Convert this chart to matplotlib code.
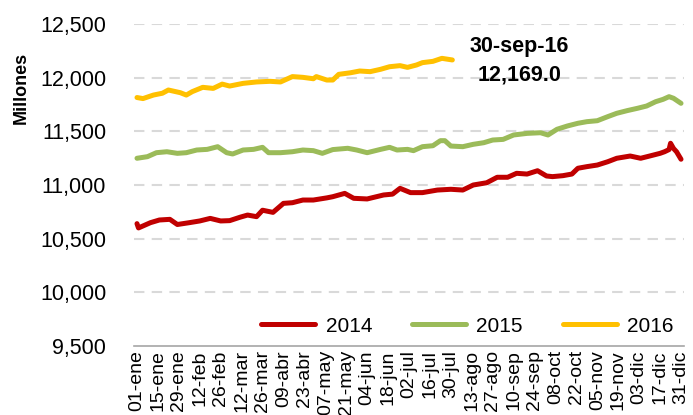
import matplotlib
matplotlib.use("Agg")
import matplotlib.pyplot as plt
from matplotlib import font_manager

# ---------------- data ----------------
tick_labels = ["01-ene", "15-ene", "29-ene", "12-feb", "26-feb", "12-mar", "26-mar",
               "09-abr", "23-abr", "07-may", "21-may", "04-jun", "18-jun", "02-jul",
               "16-jul", "30-jul", "13-ago", "27-ago", "10-sep", "24-sep", "08-oct",
               "22-oct", "05-nov", "19-nov", "03-dic", "17-dic", "31-dic"]
tick_days = [14 * i for i in range(len(tick_labels))]

days_2014 = [0, 1, 9, 15, 22, 27, 35, 42, 49, 56, 62, 69, 74, 80, 84, 91, 98, 104, 111,
             118, 127, 131, 139, 145, 154, 165, 171, 176, 183, 191, 201, 210, 218, 225,
             234, 241, 248, 254, 261, 268, 274, 278, 285, 291, 295, 301, 308, 315, 321,
             330, 337, 343, 350, 353, 356, 357, 359, 361, 364]
vals_2014 = [10640, 10600, 10649, 10674, 10680, 10632, 10649, 10665, 10689, 10665, 10668,
             10700, 10720, 10705, 10765, 10745, 10829, 10835, 10860, 10860, 10880, 10891,
             10922, 10876, 10870, 10907, 10915, 10969, 10929, 10929, 10953, 10960, 10953,
             11000, 11021, 11072, 11072, 11109, 11102, 11133, 11084, 11078, 11087, 11102,
             11156, 11171, 11186, 11217, 11249, 11270, 11249, 11270, 11295, 11310, 11330,
             11389, 11340, 11310, 11240]

days_2015 = [0, 7, 13, 20, 27, 33, 40, 47, 54, 60, 64, 71, 78, 84, 88, 96, 104, 111, 118,
             124, 131, 141, 147, 154, 163, 169, 174, 181, 185, 191, 198, 203, 206, 210,
             218, 225, 232, 238, 245, 252, 261, 270, 275, 281, 288, 295, 301, 308, 315,
             321, 328, 335, 341, 347, 352, 356, 359, 364]
vals_2015 = [11249, 11264, 11301, 11310, 11295, 11301, 11326, 11332, 11357, 11301, 11289,
             11326, 11332, 11351, 11301, 11301, 11310, 11326, 11320, 11295, 11330, 11342,
             11326, 11301, 11332, 11351, 11326, 11332, 11320, 11357, 11366, 11413, 11413,
             11363, 11357, 11379, 11394, 11419, 11425, 11466, 11481, 11487, 11466, 11519,
             11550, 11575, 11590, 11599, 11637, 11668, 11693, 11715, 11736, 11776, 11798,
             11823, 11808, 11761]

days_2016 = [0, 4, 11, 17, 21, 29, 33, 37, 44, 51, 57, 62, 71, 80, 89, 96, 104, 111, 118,
             120, 127, 131, 135, 143, 149, 156, 163, 169, 176, 181, 187, 191, 198, 204, 211]
vals_2016 = [11815, 11805, 11838, 11855, 11885, 11860, 11838, 11870, 11910, 11900, 11940,
             11922, 11947, 11960, 11966, 11960, 12010, 12003, 11990, 12010, 11978, 11978,
             12031, 12046, 12062, 12056, 12078, 12102, 12112, 12096, 12118, 12140, 12152,
             12180, 12165]

series_names = ["2014", "2015", "2016"]
annot_date = "30-sep-16"
annot_value = "12,169.0"
y_ticks = [9500, 10000, 10500, 11000, 11500, 12000, 12500]

# ---------------- style ----------------
avail = {f.name for f in font_manager.fontManager.ttflist}
fam = ["Liberation Sans Narrow", "Liberation Sans", "DejaVu Sans"]
fam = [f for f in fam if f in avail] or ["DejaVu Sans"]
plt.rcParams["font.family"] = fam

colors = ["#C00000", "#9BBB59", "#FFC000"]

fig = plt.figure(figsize=(6.93, 4.15), dpi=100)
ax = fig.add_axes([134 / 693, 1 - 346 / 415, (684 - 134) / 693, (346 - 24) / 415])

for d, v, c, n in zip([days_2014, days_2015, days_2016],
                      [vals_2014, vals_2015, vals_2016], colors, series_names):
    ax.plot(d, v, color=c, lw=3.6, label=n, solid_capstyle="round",
            solid_joinstyle="round", zorder=3)

ax.set_xlim(-2, 366)
ax.set_ylim(9500, 12500)
ax.set_yticks(y_ticks)
ax.set_yticklabels([f"{t:,}" for t in y_ticks], fontsize=15.5)
ax.set_xticks(tick_days)
ax.set_xticklabels(tick_labels, rotation=90, fontsize=14, va="top")
ax.tick_params(axis="both", length=0)
ax.tick_params(axis="y", pad=20)
ax.tick_params(axis="x", pad=3)

for t in y_ticks[1:]:
    ax.axhline(t, color="#D9D9D9", lw=1.5, ls=(0, (5, 3.5)), zorder=1)

for s in ["top", "right", "left"]:
    ax.spines[s].set_visible(False)
ax.spines["bottom"].set_color("#A6A6A6")
ax.spines["bottom"].set_linewidth(1.2)

ax.set_ylabel("Millones", fontsize=13, fontweight="bold")
ax.yaxis.set_label_coords(-0.19, 0.8)

ax.text(256, 12286, annot_date, fontsize=15.5, fontweight="bold", ha="center", va="center")
ax.text(256, 12025, annot_value, fontsize=15.5, fontweight="bold", ha="center", va="center")

leg = ax.legend(loc="lower right", ncol=3, frameon=True, fontsize=15,
                bbox_to_anchor=(1.0, 0.0), handlelength=2.6, columnspacing=1.9,
                handletextpad=0.5, borderaxespad=0.1)
leg.get_frame().set_edgecolor("none")
leg.get_frame().set_facecolor("white")
leg.get_frame().set_alpha(1)

fig.savefig("out.png", dpi=100)
